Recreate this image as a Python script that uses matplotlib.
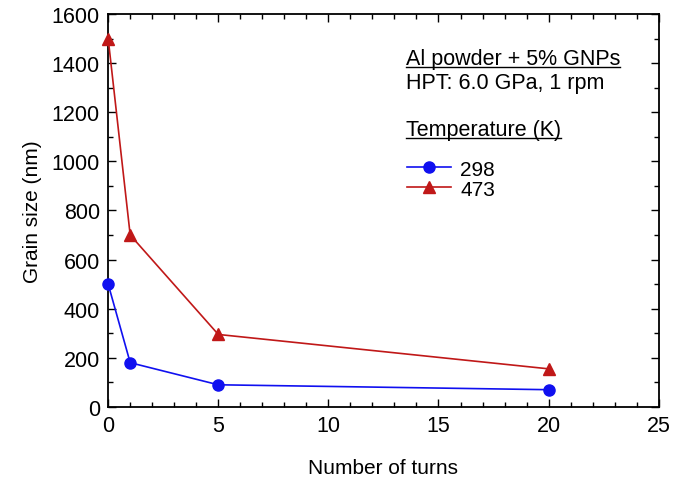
import matplotlib
matplotlib.use('Agg')
import matplotlib.pyplot as plt
from matplotlib.ticker import MultipleLocator
from matplotlib.lines import Line2D

plt.rcParams['font.family'] = ['Liberation Sans', 'DejaVu Sans']

turns = [0, 1, 5, 20]
grain_298 = [500, 180, 90, 70]
grain_473 = [1500, 700, 295, 155]

fig = plt.figure(figsize=(6.89, 4.85), dpi=100)
ax = fig.add_axes([0.157, 0.159, 0.799, 0.81])

ax.plot(turns, grain_298, color='#1010f0', marker='o', markersize=8, lw=1.2, label='298', clip_on=False, zorder=3)
ax.plot(turns, grain_473, color='#c01818', marker='^', markersize=8, lw=1.2, label='473', clip_on=False, zorder=3)

ax.set_xlim(0, 25)
ax.set_ylim(0, 1600)
ax.xaxis.set_major_locator(MultipleLocator(5))
ax.xaxis.set_minor_locator(MultipleLocator(1))
ax.yaxis.set_major_locator(MultipleLocator(200))
ax.yaxis.set_minor_locator(MultipleLocator(100))
ax.tick_params(which='both', direction='in', top=True, right=True, labelsize=15.5, width=1)
ax.tick_params(which='major', length=6, pad=6)
ax.tick_params(which='minor', length=3.5)
for s in ax.spines.values():
    s.set_linewidth(1.3)

ax.set_xlabel('Number of turns', fontsize=15, labelpad=16)
ax.set_ylabel('Grain size (nm)', fontsize=15, labelpad=7)

t1 = fig.text(0.589, 0.866, 'Al powder + 5% GNPs', fontsize=15.5, va='baseline')
t2 = fig.text(0.589, 0.816, 'HPT: 6.0 GPa, 1 rpm', fontsize=15.5, va='baseline')
t3 = fig.text(0.589, 0.720, 'Temperature (K)', fontsize=15.5, va='baseline')

leg = fig.legend(handles=ax.get_lines(), loc='upper left', bbox_to_anchor=(0.591, 0.669), frameon=False,
                 fontsize=15, handlelength=2.1, handletextpad=0.45, labelspacing=0.05, borderpad=0,
                 borderaxespad=0)

fig.canvas.draw()
r = fig.canvas.get_renderer()
for t in (t1, t3):
    bb = t.get_window_extent(r).transformed(fig.transFigure.inverted())
    y = t.get_position()[1] - 0.006
    fig.add_artist(Line2D([bb.x0, bb.x1], [y, y], color='black', lw=1.0, transform=fig.transFigure))

fig.savefig('out.png', dpi=100)
